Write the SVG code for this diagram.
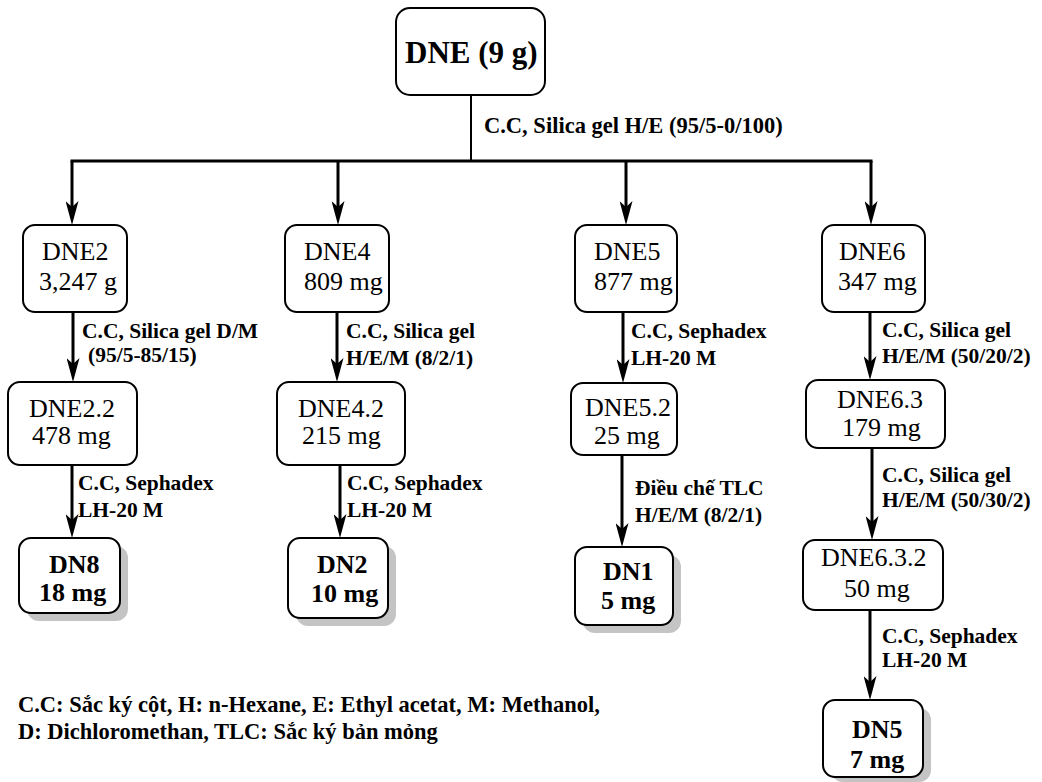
<svg xmlns="http://www.w3.org/2000/svg" width="1042" height="782" viewBox="0 0 1042 782">
  <style>
    .box { fill: #fff; stroke: #000; stroke-width: 2; }
    .shadow { fill: #c4c4c4; stroke: none; }
    .t { font-family: "Liberation Serif", "Times New Roman", serif; font-size: 26px; fill: #000; }
    .tb { font-family: "Liberation Serif", "Times New Roman", serif; font-size: 26px; font-weight: bold; fill: #000; }
    .lbl { font-family: "Liberation Serif", "Times New Roman", serif; font-size: 21.5px; font-weight: bold; fill: #000; }
    .note { font-family: "Liberation Serif", "Times New Roman", serif; font-size: 22.5px; font-weight: bold; fill: #000; }
    .wire { fill: none; stroke: #000; stroke-width: 3; }
    .arrow { fill: none; stroke: #000; stroke-width: 3; marker-end: url(#ah); }
  </style>
  <defs>
    <marker id="ah" markerUnits="userSpaceOnUse" markerWidth="24" markerHeight="13" refX="6" refY="6.5" orient="auto">
      <path d="M0,0 L24,6.5 L0,13 L6,6.5 Z" fill="#000"/>
    </marker>
  </defs>
  <rect width="1042" height="782" fill="#fff"/>

  <!-- connectors -->
  <g id="connectors">
    <line x1="471" y1="95" x2="471" y2="161" stroke="#000" stroke-width="2"/>
    <line class="wire" x1="70.5" y1="161" x2="872.5" y2="161"/>
    <line class="arrow" x1="72" y1="161" x2="72" y2="207"/>
    <line class="arrow" x1="338" y1="161" x2="338" y2="207"/>
    <line class="arrow" x1="626" y1="161" x2="626" y2="207"/>
    <line class="arrow" x1="871" y1="161" x2="871" y2="207"/>

    <line class="arrow" x1="73" y1="312" x2="73" y2="364"/>
    <line class="arrow" x1="72" y1="465" x2="72" y2="520"/>

    <line class="arrow" x1="337" y1="312" x2="337" y2="364"/>
    <line class="arrow" x1="340" y1="465" x2="340" y2="520"/>

    <line class="arrow" x1="623" y1="312" x2="623" y2="365"/>
    <line class="arrow" x1="622" y1="455" x2="622" y2="529"/>

    <line class="arrow" x1="870" y1="312" x2="870" y2="362"/>
    <line class="arrow" x1="872" y1="448" x2="872" y2="522"/>
    <line class="arrow" x1="870" y1="610" x2="870" y2="682"/>
  </g>

  <!-- connector labels -->
  <g id="labels">
    <text class="lbl" x="484" y="133" style="font-size:22.5px">C.C, Silica gel H/E (95/5-0/100)</text>

    <text class="lbl" x="82" y="338">C.C, Silica gel D/M</text>
    <text class="lbl" x="88" y="362">(95/5-85/15)</text>
    <text class="lbl" x="78" y="490">C.C, Sephadex</text>
    <text class="lbl" x="78" y="517">LH-20 M</text>

    <text class="lbl" x="346" y="338">C.C, Silica gel</text>
    <text class="lbl" x="346" y="365">H/E/M (8/2/1)</text>
    <text class="lbl" x="347" y="490">C.C, Sephadex</text>
    <text class="lbl" x="347" y="517">LH-20 M</text>

    <text class="lbl" x="631" y="338">C.C, Sephadex</text>
    <text class="lbl" x="631" y="365">LH-20 M</text>
    <text class="lbl" x="635" y="495">Điều chế TLC</text>
    <text class="lbl" x="635" y="522">H/E/M (8/2/1)</text>

    <text class="lbl" x="882" y="337">C.C, Silica gel</text>
    <text class="lbl" x="882" y="363">H/E/M (50/20/2)</text>
    <text class="lbl" x="882" y="482">C.C, Silica gel</text>
    <text class="lbl" x="882" y="507">H/E/M (50/30/2)</text>
    <text class="lbl" x="882" y="643">C.C, Sephadex</text>
    <text class="lbl" x="882" y="667">LH-20 M</text>
  </g>

  <!-- root -->
  <g id="DNE">
    <rect class="box" x="396" y="8" width="149" height="87" rx="14"/>
    <text class="tb" x="405" y="63" style="font-size:31px">DNE (9 g)</text>
  </g>

  <!-- column 1 -->
  <g id="DNE2">
    <rect class="box" x="23" y="225" width="104" height="87" rx="12"/>
    <text class="t" x="42" y="260">DNE2</text>
    <text class="t" x="39" y="290">3,247 g</text>
  </g>
  <g id="DNE2.2">
    <rect class="box" x="8" y="382" width="129" height="83" rx="12"/>
    <text class="t" x="29" y="417">DNE2.2</text>
    <text class="t" x="32" y="444">478 mg</text>
  </g>
  <g id="DN8">
    <rect class="shadow" x="27" y="546" width="101" height="75" rx="12"/>
    <rect class="box" x="19" y="538" width="101" height="75" rx="12"/>
    <text class="tb" x="49" y="573">DN8</text>
    <text class="tb" x="39" y="601">18 mg</text>
  </g>

  <!-- column 2 -->
  <g id="DNE4">
    <rect class="box" x="285" y="225" width="104" height="87" rx="12"/>
    <text class="t" x="304" y="260">DNE4</text>
    <text class="t" x="304" y="290">809 mg</text>
  </g>
  <g id="DNE4.2">
    <rect class="box" x="277" y="382" width="128" height="83" rx="12"/>
    <text class="t" x="298" y="417">DNE4.2</text>
    <text class="t" x="302" y="444">215 mg</text>
  </g>
  <g id="DN2">
    <rect class="shadow" x="296" y="546" width="100" height="80" rx="12"/>
    <rect class="box" x="288" y="538" width="100" height="80" rx="12"/>
    <text class="tb" x="317" y="573">DN2</text>
    <text class="tb" x="311" y="602">10 mg</text>
  </g>

  <!-- column 3 -->
  <g id="DNE5">
    <rect class="box" x="575" y="225" width="102" height="87" rx="12"/>
    <text class="t" x="594" y="260">DNE5</text>
    <text class="t" x="594" y="290">877 mg</text>
  </g>
  <g id="DNE5.2">
    <rect class="box" x="571" y="383" width="106" height="72" rx="12"/>
    <text class="t" x="585" y="416">DNE5.2</text>
    <text class="t" x="594" y="444">25 mg</text>
  </g>
  <g id="DN1">
    <rect class="shadow" x="583" y="555" width="98" height="78" rx="12"/>
    <rect class="box" x="575" y="547" width="98" height="78" rx="12"/>
    <text class="tb" x="603" y="580">DN1</text>
    <text class="tb" x="601" y="609">5 mg</text>
  </g>

  <!-- column 4 -->
  <g id="DNE6">
    <rect class="box" x="822" y="225" width="103" height="87" rx="12"/>
    <text class="t" x="839" y="260">DNE6</text>
    <text class="t" x="838" y="290">347 mg</text>
  </g>
  <g id="DNE6.3">
    <rect class="box" x="806" y="380" width="139" height="68" rx="12"/>
    <text class="t" x="837" y="408">DNE6.3</text>
    <text class="t" x="842" y="436">179 mg</text>
  </g>
  <g id="DNE6.3.2">
    <rect class="box" x="803" y="540" width="140" height="70" rx="12"/>
    <text class="t" x="821" y="566">DNE6.3.2</text>
    <text class="t" x="844" y="597">50 mg</text>
  </g>
  <g id="DN5">
    <rect class="shadow" x="831" y="708" width="100" height="74" rx="12"/>
    <rect class="box" x="823" y="700" width="100" height="77" rx="12"/>
    <text class="tb" x="852" y="738">DN5</text>
    <text class="tb" x="850" y="768">7 mg</text>
  </g>

  <!-- abbreviations -->
  <g id="legend">
    <text class="note" x="18" y="712">C.C: Sắc ký cột, H: n-Hexane, E: Ethyl acetat, M: Methanol,</text>
    <text class="note" x="18" y="739">D: Dichloromethan, TLC: Sắc ký bản mỏng</text>
  </g>
</svg>
